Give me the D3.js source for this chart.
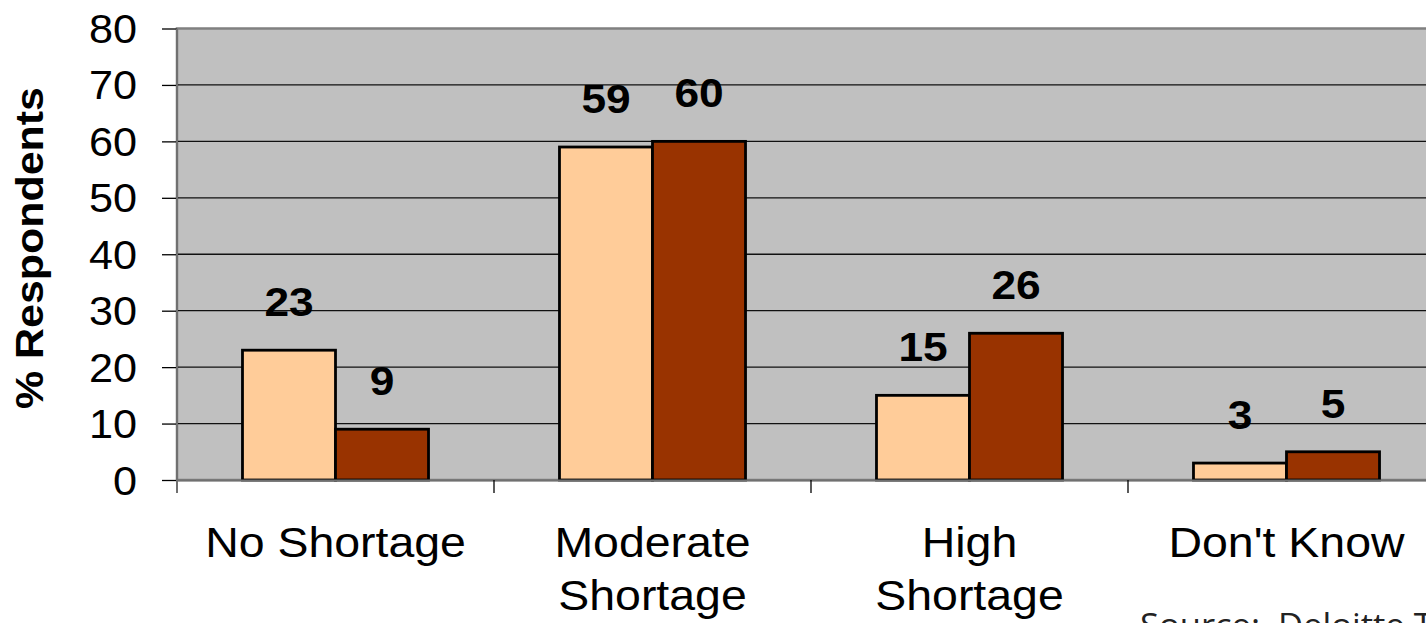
<!DOCTYPE html>
<html lang="en">
<head>
	<meta charset="UTF-8" />
	<script src="https://d3js.org/d3.v7.min.js"></script>
	<style type="text/css">
		body { margin: 0; background: #fff; }
		svg { display: block; }
		text { font-family: Arial, "Liberation Sans", sans-serif; fill: #000; }
	</style>
	<title>Shortage</title>
</head>
<body>

<script type="text/javascript">
	// Data
	var categories = ["No Shortage", "Moderate Shortage", "High Shortage", "Don't Know"];
	var catLines = [["No Shortage"], ["Moderate", "Shortage"], ["High", "Shortage"], ["Don't Know"]];
	var series = ["A", "B"];
	var valuesA = [23, 59, 15, 3];
	var valuesB = [9, 60, 26, 5];
	var yTicks = [0, 10, 20, 30, 40, 50, 60, 70, 80];
	var colors = ["#FFCC99", "#993300"];

	var W = 1426, H = 623;
	// (window.top is read-only, so don't call it "top")
	var pLeft = 177, pTop = 28.5, pBottom = 480, step = 317;
	var sx = 1.08; // the picture is a little stretched sideways

	var svg = d3.select("body").append("svg")
		.attr("width", W)
		.attr("height", H);

	var xScale = d3.scaleBand()
		.domain(categories)
		.range([pLeft, pLeft + step * categories.length])
		.padding(0);

	var xInner = d3.scaleBand()
		.domain(series)
		.range([0, xScale.bandwidth()])
		.paddingInner(0)
		.paddingOuter(0.704);

	var yScale = d3.scaleLinear()
		.domain([0, 80])
		.range([pBottom, pTop]);

	var pRight = pLeft + step * categories.length;

	// plot background
	svg.append("rect")
		.attr("x", pLeft)
		.attr("y", pTop)
		.attr("width", pRight - pLeft)
		.attr("height", pBottom - pTop)
		.attr("fill", "#C0C0C0")
		.attr("stroke", "#808080")
		.attr("stroke-width", 2.5);

	// grid lines
	svg.append("g")
		.selectAll("line")
		.data(yTicks.filter(function(d) { return d > 0 && d < 80; }))
		.enter().append("line")
		.attr("x1", pLeft)
		.attr("x2", pRight)
		.attr("y1", function(d) { return yScale(d); })
		.attr("y2", function(d) { return yScale(d); })
		.attr("stroke", "#111")
		.attr("stroke-width", 1.3);

	// bars
	var rows = categories.map(function(c, i) {
		return [{cat: c, s: 0, v: valuesA[i]}, {cat: c, s: 1, v: valuesB[i]}];
	});
	var flat = [].concat.apply([], rows);

	svg.append("g")
		.selectAll("rect")
		.data(flat)
		.enter().append("rect")
		.attr("x", function(d) { return xScale(d.cat) + xInner(series[d.s]); })
		.attr("width", xInner.bandwidth())
		.attr("y", function(d) { return yScale(d.v); })
		.attr("height", function(d) { return pBottom - yScale(d.v); })
		.attr("fill", function(d) { return colors[d.s]; })
		.attr("stroke", "#000")
		.attr("stroke-width", 2.8);

	// value labels
	svg.append("g")
		.selectAll("text")
		.data(flat)
		.enter().append("text")
		.attr("transform", function(d) {
			var x = xScale(d.cat) + xInner(series[d.s]) + xInner.bandwidth() / 2;
			return "translate(" + x + "," + (yScale(d.v) - 34) + ") scale(" + sx + ",1)";
		})
		.attr("text-anchor", "middle")
		.attr("font-size", "41px")
		.attr("font-weight", "bold")
		.text(function(d) { return d.v; });

	// y axis
	var yAxis = svg.append("g")
		.attr("transform", "translate(" + pLeft + ",0)")
		.call(d3.axisLeft(yScale).tickValues(yTicks).tickSize(15).tickPadding(0).tickFormat(""));
	yAxis.select(".domain").remove();
	yAxis.selectAll(".tick line").attr("stroke", "#000").attr("stroke-width", 1.3);

	svg.append("line")
		.attr("x1", pLeft).attr("x2", pLeft)
		.attr("y1", pTop).attr("y2", pBottom + 13)
		.attr("stroke", "#707070")
		.attr("stroke-width", 2);

	svg.append("g")
		.selectAll("text")
		.data(yTicks)
		.enter().append("text")
		.attr("transform", function(d) {
			return "translate(137," + (yScale(d) + 14.5) + ") scale(" + sx + ",1)";
		})
		.attr("text-anchor", "end")
		.attr("font-size", "40px")
		.text(function(d) { return d; });

	// x axis
	var xAxis = svg.append("g")
		.attr("transform", "translate(0," + pBottom + ")")
		.call(d3.axisBottom(xScale).tickSize(0).tickFormat(""));
	xAxis.select(".domain").attr("stroke", "#707070").attr("stroke-width", 2);

	svg.append("g")
		.selectAll("line")
		.data(categories.slice(1))
		.enter().append("line")
		.attr("x1", function(d) { return xScale(d); })
		.attr("x2", function(d) { return xScale(d); })
		.attr("y1", pBottom)
		.attr("y2", pBottom + 13)
		.attr("stroke", "#000")
		.attr("stroke-width", 1.3);

	var catText = svg.append("g")
		.selectAll("g")
		.data(categories)
		.enter().append("g")
		.attr("transform", function(d) {
			return "translate(" + (xScale(d) + xScale.bandwidth() / 2) + ",557) scale(" + sx + ",1)";
		});
	catText.each(function(d, i) {
		d3.select(this).selectAll("text")
			.data(catLines[i])
			.enter().append("text")
			.attr("y", function(l, j) { return j * 53; })
			.attr("text-anchor", "middle")
			.attr("font-size", "43px")
			.text(function(l) { return l; });
	});

	// y axis title
	svg.append("text")
		.attr("transform", "translate(43,248) rotate(-90)")
		.attr("text-anchor", "middle")
		.attr("font-size", "39px")
		.attr("font-weight", "bold")
		.attr("textLength", 322)
		.attr("lengthAdjust", "spacingAndGlyphs")
		.text("% Respondents");

	// source note (cut off at the right edge, as in the original)
	svg.append("text")
		.attr("transform", "translate(1140,637) scale(" + sx + ",1)")
		.style("font-family", "'Open Sans', 'Noto Sans', sans-serif")
		.style("white-space", "pre")
		.attr("font-size", "32px")
		.style("fill", "#222")
		.text("Source:  Deloitte T");
</script>
</body>
</html>
